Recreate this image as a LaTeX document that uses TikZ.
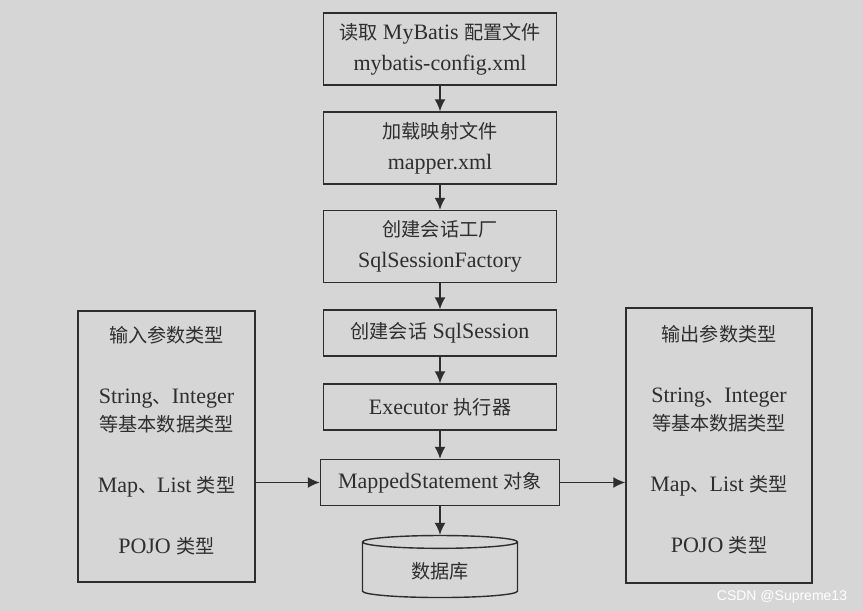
\documentclass[tikz,border=0pt]{standalone}
\usepackage{fontspec}
\setmainfont{Liberation Serif}
\newfontfamily\cjk[Scale=0.87]{Noto Sans CJK SC}
\newfontfamily\wmfont{Liberation Sans}
\usetikzlibrary{arrows.meta,shapes.geometric}
\definecolor{paper}{HTML}{D6D6D6}
\definecolor{ink}{HTML}{2E2E2E}

\begin{document}
\begin{tikzpicture}[
		x=1pt,y=-1pt,
		every node/.style={text=ink,font=\fontsize{22}{31}\selectfont},
		flowbox/.style={draw=ink,line width=1.4pt,minimum width=233pt,align=center,inner sep=0pt},
		tallbox/.style={flowbox,minimum height=72pt},
		flatbox/.style={flowbox,minimum height=46pt},
		sidebox/.style={draw=ink,line width=1.4pt,align=center,inner sep=0pt},
		arr/.style={-{Latex[length=12pt,width=11pt]},draw=ink,line width=1.6pt}
		]
		\fill[paper] (0,0) rectangle (863,611);
		\node[tallbox] (cfg) at (440,49) {{\cjk 读取} MyBatis {\cjk 配置文件}\\mybatis-config.xml};
		\node[tallbox] (mapper) at (440,148) {{\cjk 加载映射文件}\\mapper.xml};
		\node[tallbox] (factory) at (440,246.5) {{\cjk 创建会话工厂}\\SqlSessionFactory};
		\node[flatbox] (session) at (440,333) {{\cjk 创建会话} SqlSession};
		\node[flatbox] (executor) at (440,407) {Executor {\cjk 执行器}};
		\node[flatbox,minimum width=239pt] (stmt) at (440,482.5) {MappedStatement {\cjk 对象}};
		\node[draw=ink,line width=1.4pt,cylinder,shape border rotate=90,aspect=0.2,
			minimum width=155pt,minimum height=62pt] (db) at (440,571) {{\cjk 数据库}};
		\node[sidebox,minimum width=177pt,minimum height=271pt] (inparam) at (166.5,446.5)
			{{\cjk 输入参数类型}\\[30pt]String{\cjk 、}Integer\\[-3pt]{\cjk 等基本数据类型}\\[30pt]Map{\cjk 、}List {\cjk 类型}\\[30pt]POJO {\cjk 类型}\\[-17pt]\mbox{}};
		\node[sidebox,minimum width=186pt,minimum height=275pt] (outparam) at (719,445.5)
			{{\cjk 输出参数类型}\\[30pt]String{\cjk 、}Integer\\[-3pt]{\cjk 等基本数据类型}\\[30pt]Map{\cjk 、}List {\cjk 类型}\\[30pt]POJO {\cjk 类型}\\[-17pt]\mbox{}};
		\node[text=white,font=\wmfont\fontsize{14}{14}\selectfont] (wm) at (782,597) {CSDN @Supreme13};
		\draw[arr] (cfg) -- (mapper);
		\draw[arr] (mapper) -- (factory);
		\draw[arr] (factory) -- (session);
		\draw[arr] (session) -- (executor);
		\draw[arr] (executor) -- (stmt);
		\draw[arr] (stmt) -- (db);
		\draw[arr] (inparam.east |- stmt.west) -- (stmt.west);
		\draw[arr] (stmt.east) -- (outparam.west |- stmt.east);
\end{tikzpicture}
\end{document}
